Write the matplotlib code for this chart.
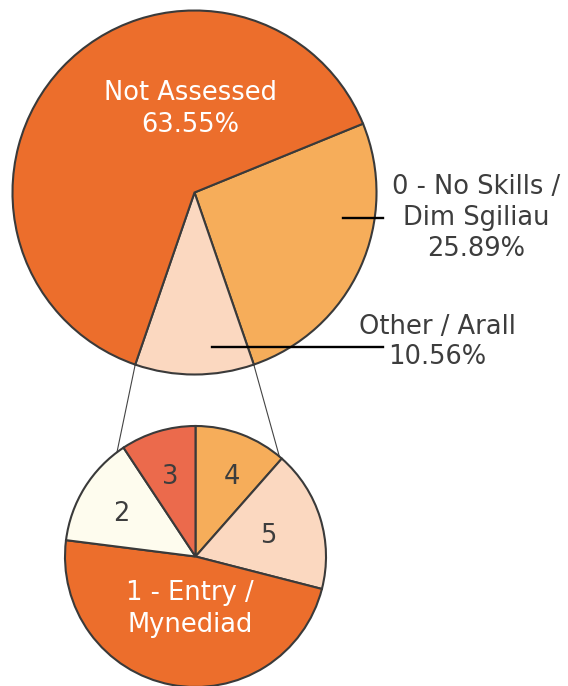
import numpy as np
import matplotlib.pyplot as plt

# top pie
main_labels = ['0 - No Skills /\nDim Sgiliau', 'Other / Arall', 'Not Assessed']
main_values = [25.89, 10.56, 63.55]
main_colors = ['#F6AD5A', '#FBD8C0', '#EC6E2C']

# breakdown of "Other"
sub_labels = ['4', '5', '1 - Entry /\nMynediad', '2', '3']
sub_values = [11.5, 17.5, 48.0, 13.7, 9.3]
sub_colors = ['#F6AD5A', '#FBD8C0', '#EC6E2C', '#FEFCEE', '#EB6A4C']

W, H = 568, 686
fig = plt.figure(figsize=(W / 100, H / 100), dpi=100)
ax = fig.add_axes([0, 0, 1, 1])

txt = '#3d3d3d'
edge = dict(edgecolor='#3a3a3a', linewidth=1.5)

c1, r1 = (194.5, H - 192.5), 182
c2, r2 = (195.5, H - 556.5), 130.5

# start so that "Other" sits centred at the bottom
start1 = -90 + main_values[1] / 100 * 180 + main_values[0] / 100 * 360
w1, _ = ax.pie(main_values, colors=main_colors, startangle=start1, counterclock=False,
               center=c1, radius=r1, wedgeprops=edge, frame=True)
w2, _ = ax.pie(sub_values, colors=sub_colors, startangle=90, counterclock=False,
               center=c2, radius=r2, wedgeprops=edge, frame=True)
ax.set_xlim(0, W)
ax.set_ylim(0, H)
ax.set_aspect('equal')
ax.axis('off')

# connector lines from the "Other" wedge to the second pie
other = w1[1]
for a_top, a_bot in [(other.theta1, 127), (other.theta2, 50)]:
    p = (c1[0] + r1 * np.cos(np.radians(a_top)), c1[1] + r1 * np.sin(np.radians(a_top)))
    q = (c2[0] + r2 * np.cos(np.radians(a_bot)), c2[1] + r2 * np.sin(np.radians(a_bot)))
    ax.plot([p[0], q[0]], [p[1], q[1]], color='#444444', lw=0.8, zorder=0)

fs = 18.5
ls = 1.25
ax.text(190, H - 109, 'Not Assessed\n%.2f%%' % main_values[2], color='white', fontsize=fs,
        ha='center', va='center', linespacing=ls)
ax.text(476, H - 218, '%s\n%.2f%%' % (main_labels[0], main_values[0]), color=txt, fontsize=fs,
        ha='center', va='center', linespacing=ls)
ax.text(437, H - 342, '%s\n%.2f%%' % (main_labels[1], main_values[1]), color=txt, fontsize=fs,
        ha='center', va='center', linespacing=ls)
ax.plot([343, 383], [H - 218, H - 218], color='black', lw=1.7)
ax.plot([212, 383], [H - 347, H - 347], color='black', lw=1.7)

sub_pos = [(232, 477), (268, 536), (190, 609), (121, 514), (170, 477)]
for lab, (x, y), col in zip(sub_labels, sub_pos, [txt, txt, 'white', txt, txt]):
    ax.text(x, H - y, lab, color=col, fontsize=fs, ha='center', va='center', linespacing=ls)

fig.savefig('out.png', dpi=100)
